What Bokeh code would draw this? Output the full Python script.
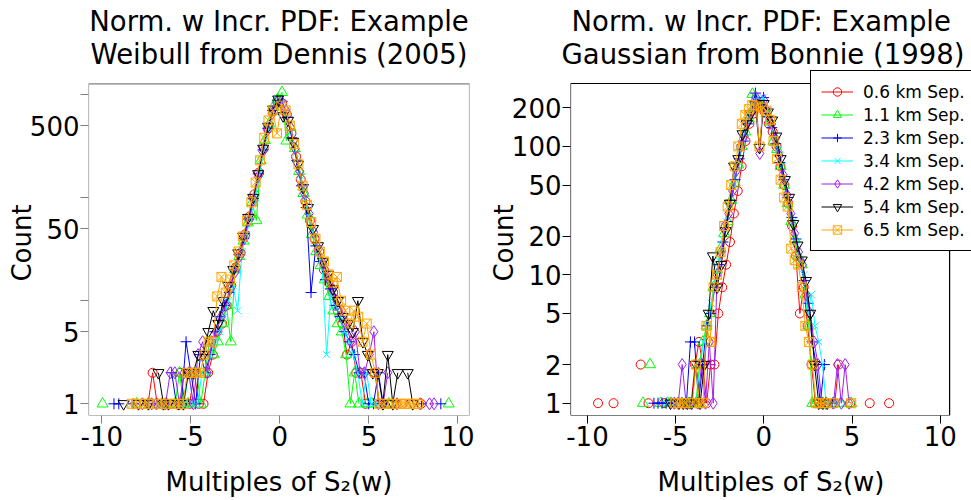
import numpy as np
from bokeh.plotting import figure
from bokeh.layouts import row
from bokeh.models import FixedTicker, Legend, LegendItem, Title, Range1d, BoxAnnotation
from bokeh.embed import file_html
from bokeh.resources import INLINE

FONT = "DejaVu Sans"

series_labels = ["0.6 km Sep.", "1.1 km Sep.", "2.3 km Sep.", "3.4 km Sep.",
                 "4.2 km Sep.", "5.4 km Sep.", "6.5 km Sep."]
series_colors = ["#FF0000", "#00FF00", "#0000FF", "#00FFFF", "#A020F0", "#000000", "#FFA500"]
series_markers = ["circle", "triangle", "cross", "x", "diamond", "inverted_triangle", "square_x"]
marker_sizes = [9, 11, 11, 10, 12, 11, 9]

# ---------------- Left panel: Weibull from Dennis (2005) ----------------
weibull_first_center = [-7.41, -9.96, -9.32, -6.875, -7.72, -8.78, -8.32]
weibull_bin_width = [0.26, 0.24, 0.27, 0.25, 0.26, 0.28, 0.24]
weibull_06 = [1, 2, 1, 0, 1, 1, 0, 2, 1, 1, 2, 1, 1, 2, 3, 5, 6, 9, 14, 21, 29, 44, 66, 108, 175, 300, 470, 690, 870,
              820, 640, 420, 250, 150, 92, 60, 40, 30, 20, 15, 12, 8, 6, 3, 4, 2, 2, 1, 0, 2, 1, 0, 1, 0, 0, 1, 0, 0, 0, 1]
weibull_11 = [1, 0, 0, 0, 0, 0, 0, 0, 1, 0, 0, 1, 0, 0, 1, 1, 0, 1, 2, 1, 1, 0, 2, 1, 2, 4, 3, 4, 6, 9, 4, 20, 27, 38,
              57, 90, 60, 230, 360, 520, 760, 900,
              1050, 355, 480, 300, 180, 110, 68, 44, 30, 22, 16, 11, 8, 6, 5, 3, 1, 2, 1, 0, 1, 1, 0, 0, 0, 1, 0, 0,
              0, 0, 0, 0, 0, 0, 0, 0, 0, 0, 0, 1]
weibull_23 = [1, 1, 0, 0, 1, 0, 0, 1, 0, 1, 1, 0, 2, 1, 1, 4, 2, 1, 3, 2, 3, 5, 7, 9, 12, 20, 28, 40, 62, 98, 170, 290,
              470, 700, 880,
              860, 600, 380, 230, 130, 80, 12, 34, 24, 16, 13, 9, 7, 5, 4, 3, 2, 2, 1, 1, 2, 1, 0, 0, 0, 0, 0, 0, 0,
              1, 0, 0, 0, 1]
weibull_34 = [1, 0, 1, 1, 0, 1, 1, 2, 1, 1, 2, 2, 3, 4, 5, 7, 10, 14, 8, 30, 44, 66, 100, 170, 300, 470, 700, 880,
              830, 650, 430, 270, 165, 100, 64, 44, 31, 22, 3, 12, 9, 7, 5, 4, 3, 2, 1, 2, 1, 1, 0, 1, 0, 1]
weibull_42 = [1, 0, 1, 1, 0, 1, 2, 2, 1, 2, 2, 1, 3, 4, 2, 4, 5, 7, 9, 13, 19, 27, 40, 60, 95, 160, 280, 450, 650, 830,
              860, 700, 480, 300, 180, 110, 70, 46, 32, 23, 17, 13, 10, 8, 6, 4, 5, 2, 2, 3, 5, 1, 1, 2, 0, 1, 0, 0,
              0, 0, 1, 0, 1, 1]
weibull_54 = [1, 0, 0, 1, 0, 1, 0, 2, 1, 1, 0, 1, 1, 2, 2, 3, 3, 5, 8, 6, 10, 14, 20, 29, 42, 64, 100, 170, 300, 490,
              720, 900,
              620, 560, 350, 210, 125, 80, 50, 34, 24, 18, 13, 10, 7, 6, 5, 10, 4, 3, 2, 2, 1, 3, 1, 2, 0, 2, 1]
weibull_65 = [1, 1, 0, 1, 1, 0, 1, 1, 1, 0, 1, 1, 1, 2, 2, 2, 2, 3, 4, 4, 11, 17, 12, 16, 22, 30, 42, 60, 90, 140, 230,
              380, 560, 700, 420,
              780, 700, 500, 330, 210, 130, 85, 58, 40, 30, 24, 18, 15, 17, 10, 8, 6, 8, 7, 4, 6, 3, 2, 1, 1, 0, 1, 1,
              1, 1, 1, 1, 1]
weibull_counts = [weibull_06, weibull_11, weibull_23, weibull_34, weibull_42, weibull_54, weibull_65]

# ---------------- Right panel: Gaussian from Bonnie (1998) ----------------
gauss_first_center = [-9.40, -6.85, -6.23, -5.50, -5.07, -5.29, -5.25]
gauss_bin_width = [0.22, 0.20, 0.23, 0.21, 0.22, 0.24, 0.20]
gauss_06 = [1, 0, 0, 0, 1, 0, 0, 0, 0, 0,
            0, 2, 0, 1, 0, 0, 0, 1, 0, 1,
            1, 0, 1, 1, 1, 2, 3, 2, 1, 2,
            2, 5, 8, 12, 18, 30, 45, 70, 110, 150,
            180, 210, 200, 185, 150, 130, 100, 70, 50, 36,
            24, 14, 5, 8, 4, 2, 1, 1, 0, 1,
            0, 1, 2, 0, 0, 1, 0, 0, 0, 0,
            1, 0, 0, 0, 0, 1]
gauss_11 = [1, 0, 2, 0, 0, 1, 0, 1, 1, 0,
            1, 1, 0, 1, 1, 1, 2, 3, 4, 5,
            8, 11, 16, 21, 26, 38, 52, 72, 100, 130,
            165, 255, 200, 215, 205, 180, 155, 110, 95, 70,
            50, 36, 26, 19, 14, 12, 7, 4, 1, 1,
            0, 1, 1, 0, 1, 0, 1, 0, 0, 1]
gauss_23 = [1, 1, 1, 1, 1, 1, 0, 1, 1, 3,
            3, 1, 2, 4, 5, 8, 12, 18, 26, 38,
            55, 80, 110, 150, 190, 260, 210, 240, 170, 140,
            105, 75, 55, 40, 28, 19, 13, 9, 6, 3,
            2, 1, 2, 0, 1]
gauss_34 = [1, 0, 1, 1, 0, 1, 1, 1, 1, 2,
            3, 4, 6, 9, 13, 19, 26, 36, 50, 68,
            95, 125, 170, 200, 230, 200, 240, 190, 150, 120,
            95, 70, 50, 36, 26, 18, 13, 10, 5, 7,
            4, 3, 2, 1, 1, 0, 1, 0, 1]
gauss_42 = [1, 1, 2, 1, 1, 0, 1, 2, 1, 3,
            1, 10, 15, 24, 30, 45, 65, 100, 120, 160,
            190, 240, 88, 230, 185, 150, 115, 85, 60, 42,
            30, 21, 15, 12, 7, 5, 3, 2, 1, 1,
            0, 1, 2, 1, 2, 1]
gauss_54 = [1, 0, 1, 1, 1, 1, 2, 1, 2, 5,
            14, 8, 12, 22, 36, 70, 80, 125, 150, 180,
            210, 98, 215, 185, 160, 120, 80, 55, 40, 25,
            17, 13, 9, 5, 2, 1, 1, 1]
gauss_65 = [0, 1, 1, 1, 1, 0, 1, 2, 1, 1,
            4, 3, 8, 10, 15, 24, 34, 50, 70, 100,
            150, 175, 195, 210, 205, 100, 200, 190, 160, 110,
            80, 55, 40, 34, 16, 13, 12, 8, 4, 3,
            2, 1, 1, 1, 1, 0, 1, 0, 0, 0,
            0, 1]
gauss_counts = [gauss_06, gauss_11, gauss_23, gauss_34, gauss_42, gauss_54, gauss_65]

x_ticks = [-10, -5, 0, 5, 10]
x_tick_labels = ["-10", "-5", "0", "5", "10"]
weibull_y_ticks = [1, 5, 10, 50, 100, 500, 1000]
weibull_y_labels = ["1", "5", "", "50", "", "500", ""]
gauss_y_ticks = [1, 2, 5, 10, 20, 50, 100, 200]
gauss_y_labels = ["1", "2", "5", "10", "20", "50", "100", "200"]

# axis box limits of each panel (x: min, max; y: min, max)
weibull_box = (-10.75, 10.65, 0.770, 1270)
gauss_box = (-10.96, 10.53, 0.802, 309)


def make_panel(width, border_left, border_right, x_rng, y_rng, box,
               title1, title2, title_align, t1_offset, t2_offset,
               yticks, ylabels, frame_color, firsts, widths, counts_list):
    p = figure(width=width, height=500, title=None, y_axis_type="log",
               x_range=Range1d(*x_rng), y_range=Range1d(*y_rng),
               output_backend="svg", toolbar_location=None,
               min_border_left=border_left, min_border_right=border_right,
               min_border_top=70, min_border_bottom=85)
    p.xgrid.visible = False
    p.ygrid.visible = False
    p.outline_line_color = None
    p.background_fill_color = "white"
    p.border_fill_color = "white"

    p.add_layout(Title(text=title2, align=title_align, text_font_size="27.5px", text_font=FONT,
                       text_font_style="normal", text_color="black",
                       standoff=2, offset=t2_offset), "above")
    p.add_layout(Title(text=title1, align=title_align, text_font_size="27.5px", text_font=FONT,
                       text_font_style="normal", text_color="black",
                       standoff=-5, offset=t1_offset), "above")

    p.xaxis.ticker = FixedTicker(ticks=x_ticks)
    p.xaxis.major_label_overrides = {t: s for t, s in zip(x_ticks, x_tick_labels)}
    p.yaxis.ticker = FixedTicker(ticks=yticks)
    p.yaxis.major_label_overrides = {t: s for t, s in zip(yticks, ylabels)}
    p.xaxis.axis_label = "Multiples of S\u2082(w)"
    p.yaxis.axis_label = "Count"
    for ax in (p.xaxis[0], p.yaxis[0]):
        ax.axis_line_color = None
        ax.major_tick_line_color = frame_color
        ax.major_tick_out = 8
        ax.major_tick_in = 0
        ax.minor_tick_line_color = None
        ax.major_label_text_font_size = "26px"
        ax.major_label_text_font = FONT
        ax.major_label_text_color = "black"
        ax.axis_label_text_font_size = "26px"
        ax.axis_label_text_font = FONT
        ax.axis_label_text_font_style = "normal"
        ax.axis_label_text_color = "black"
    p.xaxis.major_label_standoff = 2
    p.yaxis.major_label_standoff = 1
    p.xaxis.axis_label_standoff = 18
    p.yaxis.axis_label_standoff = -10

    p.add_layout(BoxAnnotation(left=box[0], right=box[1], bottom=box[2], top=box[3],
                               fill_color=None, fill_alpha=0, line_color=frame_color,
                               line_alpha=1.0, line_width=1.2, level="overlay"))

    rends = []
    for i, counts in enumerate(counts_list):
        c = np.array(counts, dtype=float)
        x = firsts[i] + widths[i] * np.arange(len(c))
        y = np.where(c > 0, c, np.nan)
        lr = p.line(x, y, line_color=series_colors[i], line_width=1)
        sr = p.scatter(x, y, marker=series_markers[i], size=marker_sizes[i],
                       line_color=series_colors[i], fill_color=None, line_width=1)
        rends.append((lr, sr))
    return p, rends


# drawing areas reach a little beyond the axis boxes so the legend can overhang the right box
p1, _ = make_panel(485, 88, 16, (weibull_box[0], weibull_box[1]), (weibull_box[2], 1709),
                   weibull_box, "Norm. w Incr. PDF: Example", "Weibull from Dennis (2005)",
                   "center", 0, 0,
                   weibull_y_ticks, weibull_y_labels, "#808080",
                   weibull_first_center, weibull_bin_width, weibull_counts)
p2, rends2 = make_panel(486, 83, 0, (gauss_box[0], 11.77), (gauss_box[2], 390),
                        gauss_box, "Norm. w Incr. PDF: Example", "Gaussian from Bonnie (1998)",
                        "left", 1, -9,
                        gauss_y_ticks, gauss_y_labels, "#000000",
                        gauss_first_center, gauss_bin_width, gauss_counts)

items = [LegendItem(label=lab, renderers=[lr, sr]) for lab, (lr, sr) in zip(series_labels, rends2)]
legend = Legend(items=items, location=(240, 164), glyph_width=32, glyph_height=21,
                label_height=21, label_standoff=10, spacing=2, padding=10, margin=0,
                border_line_color="black", border_line_alpha=1.0, border_line_width=1.5,
                label_text_font_size="17px", label_text_font=FONT, label_text_color="black",
                background_fill_color="white", background_fill_alpha=1.0)
p2.add_layout(legend)

layout = row(p1, p2)
open("out.html", "w").write(file_html(layout, INLINE))
